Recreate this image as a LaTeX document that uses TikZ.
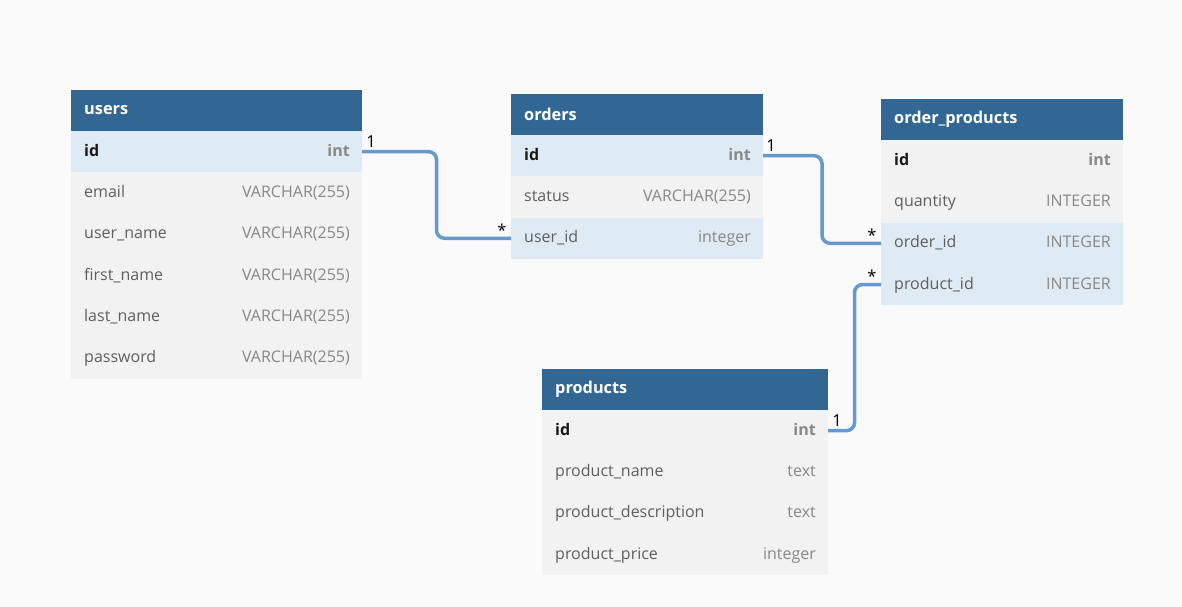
\documentclass[tikz,border=0pt]{standalone}
\usepackage{fontspec}
\setmainfont{Open Sans}
\usetikzlibrary{calc}
\definecolor{bg}{RGB}{250,250,250}
\definecolor{hdrblue}{RGB}{50,103,148}
\definecolor{rowhl}{RGB}{222,235,244}
\definecolor{rowgray}{RGB}{242,242,242}
\definecolor{conncol}{RGB}{102,153,204}
\definecolor{fieldtxt}{RGB}{95,95,95}
\definecolor{typetxt}{RGB}{136,136,136}
\definecolor{keytxt}{RGB}{25,25,25}
\tikzset{
  hdr/.style={fill=hdrblue, minimum height=41pt, inner sep=0pt, outer sep=0pt},
  hdrtxt/.style={text=white, font=\fontsize{16.3}{18}\selectfont\bfseries, inner sep=0pt},
  rowbox/.style={minimum height=41.3pt, inner sep=0pt, outer sep=0pt},
  fieldn/.style={text=fieldtxt, font=\fontsize{16}{18}\selectfont, inner sep=0pt},
  keyn/.style={text=keytxt, font=\fontsize{16}{18}\selectfont\bfseries, inner sep=0pt},
  typen/.style={text=typetxt, font=\fontsize{16}{18}\selectfont, inner sep=0pt},
  keytype/.style={text=typetxt, font=\fontsize{16}{18}\selectfont\bfseries, inner sep=0pt},
  conn/.style={draw=conncol, line width=3.5pt, rounded corners=8pt},
  mult/.style={text=black, font=\fontsize{16.5}{18}\selectfont, inner sep=0pt}
}
% #1 id, #2 x, #3 y, #4 width, #5 title
\newcommand\mktable[5]{%
  \node[hdr, minimum width=#4, anchor=north west] (#1) at (#2,#3) {};
  \node[hdrtxt, anchor=west] (#1-t) at ([xshift=13pt]#1.west) {#5};
}
% #1 prev, #2 name, #3 fill, #4 field style, #5 field, #6 type style, #7 type, #8 width
\newcommand\mkrow[8]{%
  \node[rowbox, fill=#3, minimum width=#8, anchor=north west] (#2) at (#1.south west) {};
  \node[#4, anchor=base west] (#2-f) at ([xshift=13pt,yshift=-4.5pt]#2.west) {#5};
  \node[#6, anchor=base east] (#2-ty) at ([xshift=-12pt,yshift=-4.5pt]#2.east) {#7};
}
\begin{document}
\begin{tikzpicture}[x=1pt,y=-1pt]
\fill[bg] (0,0) rectangle (1182,607);
\useasboundingbox (0,0) rectangle (1182,607);

% users
\mktable{users}{71}{90}{291pt}{users}
\mkrow{users}{users-id}{rowhl}{keyn}{id}{keytype}{int}{291pt}
\mkrow{users-id}{users-email}{rowgray}{fieldn}{email}{typen}{VARCHAR(255)}{291pt}
\mkrow{users-email}{users-uname}{rowgray}{fieldn}{user\_name}{typen}{VARCHAR(255)}{291pt}
\mkrow{users-uname}{users-fname}{rowgray}{fieldn}{first\_name}{typen}{VARCHAR(255)}{291pt}
\mkrow{users-fname}{users-lname}{rowgray}{fieldn}{last\_name}{typen}{VARCHAR(255)}{291pt}
\mkrow{users-lname}{users-pw}{rowgray}{fieldn}{password}{typen}{VARCHAR(255)}{291pt}

% orders
\mktable{orders}{511}{94}{252pt}{orders}
\mkrow{orders}{orders-id}{rowhl}{keyn}{id}{keytype}{int}{252pt}
\mkrow{orders-id}{orders-status}{rowgray}{fieldn}{status}{typen}{VARCHAR(255)}{252pt}
\mkrow{orders-status}{orders-uid}{rowhl}{fieldn}{user\_id}{typen}{integer}{252pt}

% order_products
\mktable{op}{881}{99}{242pt}{order\_products}
\mkrow{op}{op-id}{rowgray}{keyn}{id}{keytype}{int}{242pt}
\mkrow{op-id}{op-qty}{rowgray}{fieldn}{quantity}{typen}{INTEGER}{242pt}
\mkrow{op-qty}{op-oid}{rowhl}{fieldn}{order\_id}{typen}{INTEGER}{242pt}
\mkrow{op-oid}{op-pid}{rowhl}{fieldn}{product\_id}{typen}{INTEGER}{242pt}

% products
\mktable{prod}{542}{369}{286pt}{products}
\mkrow{prod}{prod-id}{rowgray}{keyn}{id}{keytype}{int}{286pt}
\mkrow{prod-id}{prod-name}{rowgray}{fieldn}{product\_name}{typen}{text}{286pt}
\mkrow{prod-name}{prod-desc}{rowgray}{fieldn}{product\_description}{typen}{text}{286pt}
\mkrow{prod-desc}{prod-price}{rowgray}{fieldn}{product\_price}{typen}{integer}{286pt}

% connectors
\draw[conn] (users-id.east) -| ($(users-id.east)!0.5!(orders-uid.west)$) |- (orders-uid.west);
\draw[conn] (orders-id.east) -| ($(orders-id.east)!0.5!(op-oid.west)$) |- (op-oid.west);
\draw[conn] (prod-id.east) -| ($(prod-id.east)!0.5!(op-pid.west)$) |- (op-pid.west);

% multiplicities
\node[mult] (m1) at ([xshift=9pt,yshift=10pt]users-id.east) {1};
\node[mult] (m2) at ([xshift=-9pt,yshift=8pt]orders-uid.west) {*};
\node[mult] (m3) at ([xshift=8pt,yshift=10pt]orders-id.east) {1};
\node[mult] (m4) at ([xshift=-9pt,yshift=8pt]op-oid.west) {*};
\node[mult] (m5) at ([xshift=9pt,yshift=10pt]prod-id.east) {1};
\node[mult] (m6) at ([xshift=-9pt,yshift=8pt]op-pid.west) {*};
\end{tikzpicture}
\end{document}
